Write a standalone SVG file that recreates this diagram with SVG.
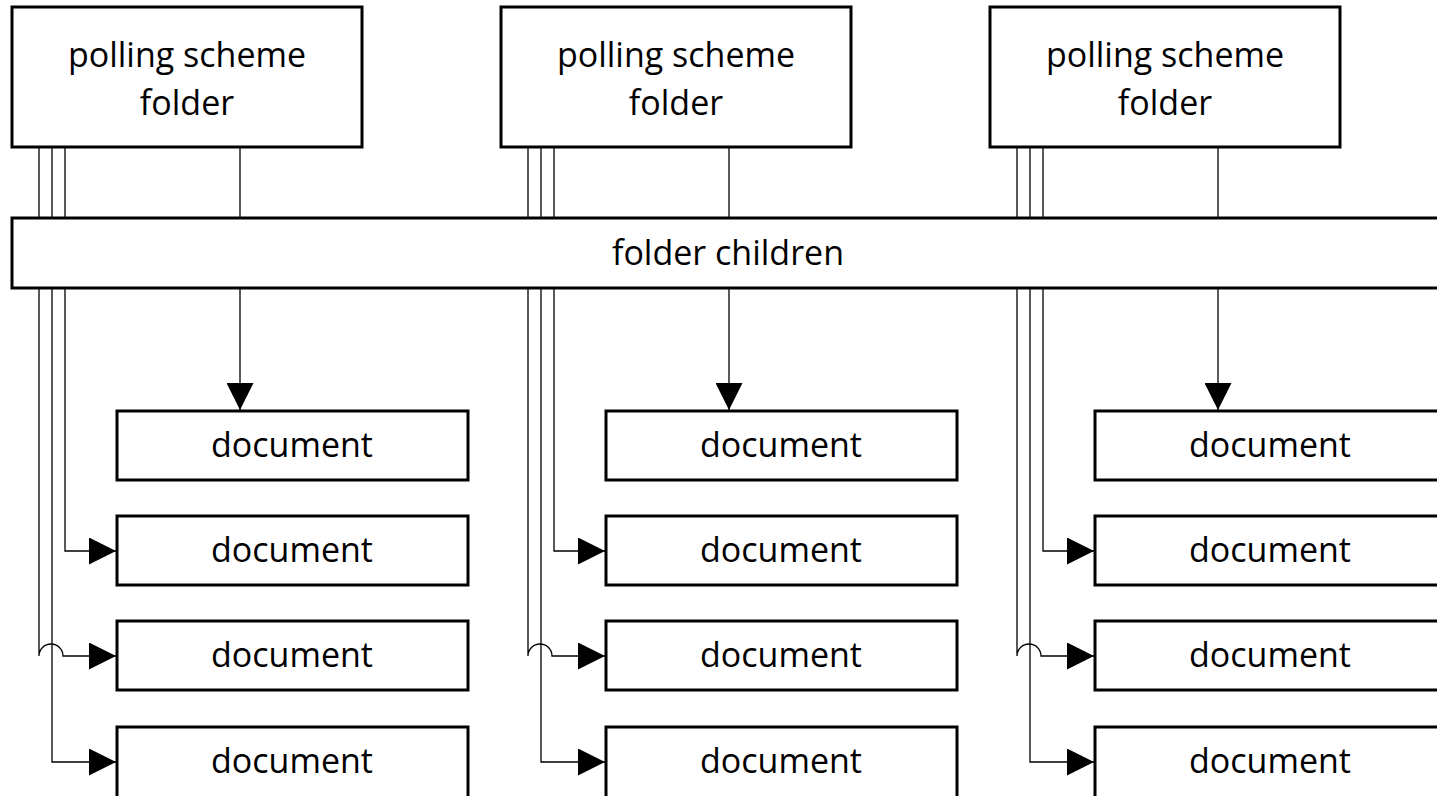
<svg xmlns="http://www.w3.org/2000/svg" width="1437" height="796" viewBox="0 0 1437 796">
<style>
.box{fill:#fff;stroke:#000;stroke-width:3}
.con{fill:none;stroke:#000;stroke-width:1.3}
.arr{marker-end:url(#ah)}
text{font-family:"Open Sans","Liberation Sans",sans-serif;font-size:34px;fill:#000;text-anchor:middle}
</style>
<defs>
<marker id="ah" markerUnits="userSpaceOnUse" markerWidth="27" markerHeight="27" viewBox="0 0 27 27" refX="27" refY="13.5" orient="auto">
<path d="M0,0 L27,13.5 L0,27 z" fill="#000"/>
</marker>
<g id="col-con">
<path class="con arr" d="M240,147 V410"/>
<path class="con arr" d="M65,147 V551 H116"/>
<path class="con arr" d="M39,147 V656 A12,12 0 0 1 63,656 H116"/>
<path class="con arr" d="M52,147 V762 H116"/>
</g>
</defs>
<rect width="1437" height="796" fill="#fff"/>
<g id="connectors">
<use href="#col-con"/>
<use href="#col-con" x="489"/>
<use href="#col-con" x="978"/>
</g>
<g id="folder1"><rect class="box" x="12" y="7" width="350" height="140"/><text x="187" y="67">polling scheme</text><text x="187" y="115">folder</text></g>
<g id="folder2"><rect class="box" x="501" y="7" width="350" height="140"/><text x="676" y="67">polling scheme</text><text x="676" y="115">folder</text></g>
<g id="folder3"><rect class="box" x="990" y="7" width="350" height="140"/><text x="1165" y="67">polling scheme</text><text x="1165" y="115">folder</text></g>
<g id="children"><rect class="box" x="12" y="218" width="1440" height="70"/><text x="728" y="265">folder children</text></g>
<g id="doc1-1"><rect class="box" x="117" y="411" width="351" height="69"/><text x="292" y="457">document</text></g>
<g id="doc1-2"><rect class="box" x="117" y="516" width="351" height="69"/><text x="292" y="562">document</text></g>
<g id="doc1-3"><rect class="box" x="117" y="621" width="351" height="69"/><text x="292" y="667">document</text></g>
<g id="doc1-4"><rect class="box" x="117" y="727" width="351" height="75"/><text x="292" y="773">document</text></g>
<g id="doc2-1"><rect class="box" x="606" y="411" width="351" height="69"/><text x="781" y="457">document</text></g>
<g id="doc2-2"><rect class="box" x="606" y="516" width="351" height="69"/><text x="781" y="562">document</text></g>
<g id="doc2-3"><rect class="box" x="606" y="621" width="351" height="69"/><text x="781" y="667">document</text></g>
<g id="doc2-4"><rect class="box" x="606" y="727" width="351" height="75"/><text x="781" y="773">document</text></g>
<g id="doc3-1"><rect class="box" x="1095" y="411" width="351" height="69"/><text x="1270" y="457">document</text></g>
<g id="doc3-2"><rect class="box" x="1095" y="516" width="351" height="69"/><text x="1270" y="562">document</text></g>
<g id="doc3-3"><rect class="box" x="1095" y="621" width="351" height="69"/><text x="1270" y="667">document</text></g>
<g id="doc3-4"><rect class="box" x="1095" y="727" width="351" height="75"/><text x="1270" y="773">document</text></g>
</svg>
